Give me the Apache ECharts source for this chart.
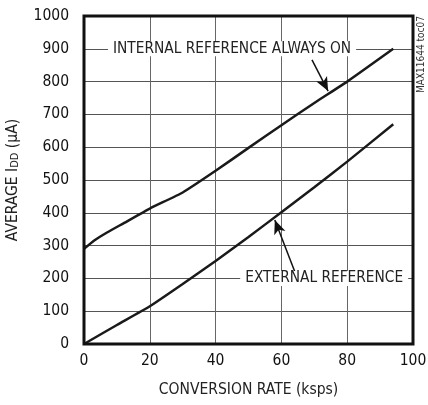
<!DOCTYPE html>
<html><head><meta charset="utf-8">
<script src="https://cdn.jsdelivr.net/npm/echarts@6/dist/echarts.min.js"></script>
<style>html,body{margin:0;padding:0;background:#fff}#c{width:428px;height:405px}</style>
</head><body><div id="c"></div>
<script>
const FONT = '"DejaVu Sans Condensed","Liberation Sans Narrow",sans-serif';
const xTicks = [0, 20, 40, 60, 80, 100];
const yTicks = [0, 100, 200, 300, 400, 500, 600, 700, 800, 900, 1000];
const internalX = [0, 3, 7, 12, 20, 30, 40, 50, 60, 70, 80, 94];
const internalY = [290, 315, 340, 368, 413, 462, 528, 598, 667, 735, 800, 900];
const externalX = [0, 10, 20, 30, 40, 50, 60, 70, 80, 94];
const externalY = [0, 58, 115, 183, 253, 326, 402, 478, 556, 670];
const internalLabel = 'INTERNAL REFERENCE ALWAYS ON';
const externalLabel = 'EXTERNAL REFERENCE';
const internalLabelPos = [45, 900];
const externalLabelPos = [73, 200];
const internalArrow = [[69.3, 866], [74.2, 771]];
const externalArrow = [[64.7, 204], [58.0, 378]];

const chart = echarts.init(document.getElementById('c'));
const zip = (xs, ys) => xs.map((x, i) => [x, ys[i]]);
const labelPoint = (pos, text) => ({
  coord: pos, symbolSize: 0,
  label: { show: true, position: 'inside', formatter: text, color: '#222', fontFamily: FONT, fontSize: 15.3,
    backgroundColor: '#fff', padding: [0, 5] }
});
chart.setOption({
  animation: false,
  grid: { left: 84, right: 15, top: 16, bottom: 61, containLabel: false, outerBoundsMode: 'none' },
  xAxis: {
    type: 'value', min: 0, max: 100, interval: 20,
    axisLine: { show: false }, axisTick: { show: false },
    splitLine: { show: true, lineStyle: { color: '#666', width: 1 } },
    axisLabel: { color: '#111', fontFamily: FONT, fontSize: 15.5, margin: 9,
      formatter: v => String(xTicks[xTicks.indexOf(v)]) },
    name: 'CONVERSION RATE (ksps)', nameLocation: 'middle', nameGap: 38,
    nameTextStyle: { color: '#222', fontFamily: FONT, fontSize: 15.5 }
  },
  yAxis: {
    type: 'value', min: 0, max: 1000, interval: 100,
    axisLine: { show: false }, axisTick: { show: false },
    splitLine: { show: true, lineStyle: { color: '#555', width: 1 } },
    axisLabel: { color: '#111', fontFamily: FONT, fontSize: 15.5, margin: 15,
      formatter: v => String(yTicks[yTicks.indexOf(v)]) },
    name: '{a|AVERAGE I}{s|DD}{a| (μA)}', nameLocation: 'middle', nameGap: 63,
    nameTextStyle: { rich: {
      a: { color: '#222', fontFamily: FONT, fontSize: 15.5 },
      s: { color: '#222', fontFamily: FONT, fontSize: 11, verticalAlign: 'bottom', padding: [6, 0, 0, 0] }
    } }
  },
  graphic: [
    { type: 'rect', shape: { x: 84, y: 16, width: 329, height: 328 }, style: { fill: 'none', stroke: '#111', lineWidth: 3 }, z: 100 },
    { type: 'text', rotation: Math.PI / 2, x: 421, y: 16,
      style: { text: 'MAX11644 toc07', fill: '#333', font: '10px ' + FONT, textAlign: 'right', textVerticalAlign: 'middle' } }
  ],
  series: [
    { type: 'line', data: zip(internalX, internalY), showSymbol: false, smooth: 0.15,
      lineStyle: { color: '#1a1a1a', width: 2.5 }, z: 5,
      markPoint: { data: [labelPoint(internalLabelPos, internalLabel)] },
      markLine: { silent: true, symbol: ['none', 'arrow'], symbolSize: [9, 14],
        lineStyle: { color: '#111', width: 1.5, type: 'solid' }, label: { show: false },
        data: [[{ coord: internalArrow[0] }, { coord: internalArrow[1] }]] }
    },
    { type: 'line', data: zip(externalX, externalY), showSymbol: false, smooth: 0.15,
      lineStyle: { color: '#1a1a1a', width: 2.5 }, z: 5,
      markPoint: { data: [labelPoint(externalLabelPos, externalLabel)] },
      markLine: { silent: true, symbol: ['none', 'arrow'], symbolSize: [9, 14],
        lineStyle: { color: '#111', width: 1.5, type: 'solid' }, label: { show: false },
        data: [[{ coord: externalArrow[0] }, { coord: externalArrow[1] }]] }
    }
  ]
});
</script></body></html>
